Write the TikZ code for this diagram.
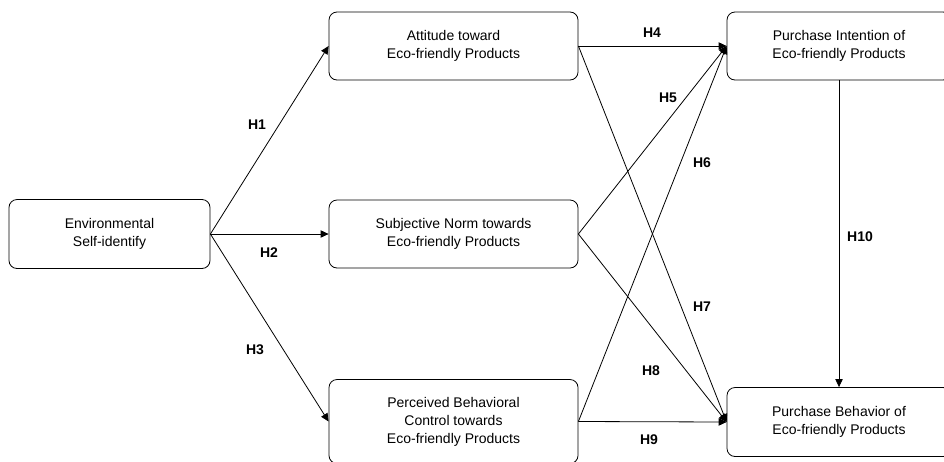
\documentclass[tikz,border=0pt]{standalone}
\usepackage{fontspec}
\setmainfont{Liberation Sans}
\usetikzlibrary{positioning, arrows.meta}

\begin{document}
\begin{tikzpicture}[x=0.75pt, y=-0.75pt,
    box/.style={draw, rounded corners=6pt, align=center, line width=0.6pt, inner sep=0pt,
      font=\fontsize{10.5}{13.5}\selectfont},
    hyp/.style={font=\fontsize{10.5}{13.5}\selectfont\bfseries},
    link/.style={-{Triangle[length=6pt,width=5.5pt]}, line width=0.6pt}]
    \useasboundingbox (0,0) rectangle (944,461);

    % Constructs
    \node[box, minimum width=150.75pt, minimum height=51.75pt] (env) at (109.5,234) {Environmental\\Self-identify};
    \node[box, minimum width=186.75pt, minimum height=51pt] (att) at (453.5,46) {Attitude toward\\Eco-friendly Products};
    \node[box, minimum width=186.75pt, minimum height=51pt] (sn) at (453.5,234) {Subjective Norm towards\\Eco-friendly Products};
    \node[box, minimum width=186.75pt, minimum height=63pt] (pbc) at (453.5,421.5) {Perceived Behavioral\\Control towards\\Eco-friendly Products};
    \node[box, minimum width=168pt, minimum height=51pt] (pi) at (839,46) {Purchase Intention of\\Eco-friendly Products};
    \node[box, minimum width=168pt, minimum height=51.75pt] (pb) at (839,422) {Purchase Behavior of\\Eco-friendly Products};

    % Paths
    \draw[link] (env.east) -- (att.west);
    \draw[link] (env.east) -- (sn.west);
    \draw[link] (env.east) -- (pbc.west);
    \draw[link] (att.east) -- (pi.west);
    \draw[link] (sn.east) -- (pi.west);
    \draw[link] (pbc.east) -- (pi.west);
    \draw[link] (att.east) -- (pb.west);
    \draw[link] (sn.east) -- (pb.west);
    \draw[link] (pbc.east) -- (pb.west);
    \draw[link] (pi.south) -- (pb.north);

    % Hypotheses
    \node[hyp] (h1) at (257,125) {H1};
    \node[hyp] (h2) at (269,253) {H2};
    \node[hyp] (h3) at (255,350) {H3};
    \node[hyp] (h4) at (652,33) {H4};
    \node[hyp] (h5) at (668,98) {H5};
    \node[hyp] (h6) at (702,163) {H6};
    \node[hyp] (h7) at (702,307) {H7};
    \node[hyp] (h8) at (651,371) {H8};
    \node[hyp] (h9) at (649,440) {H9};
    \node[hyp] (h10) at (860,237) {H10};
\end{tikzpicture}
\end{document}
